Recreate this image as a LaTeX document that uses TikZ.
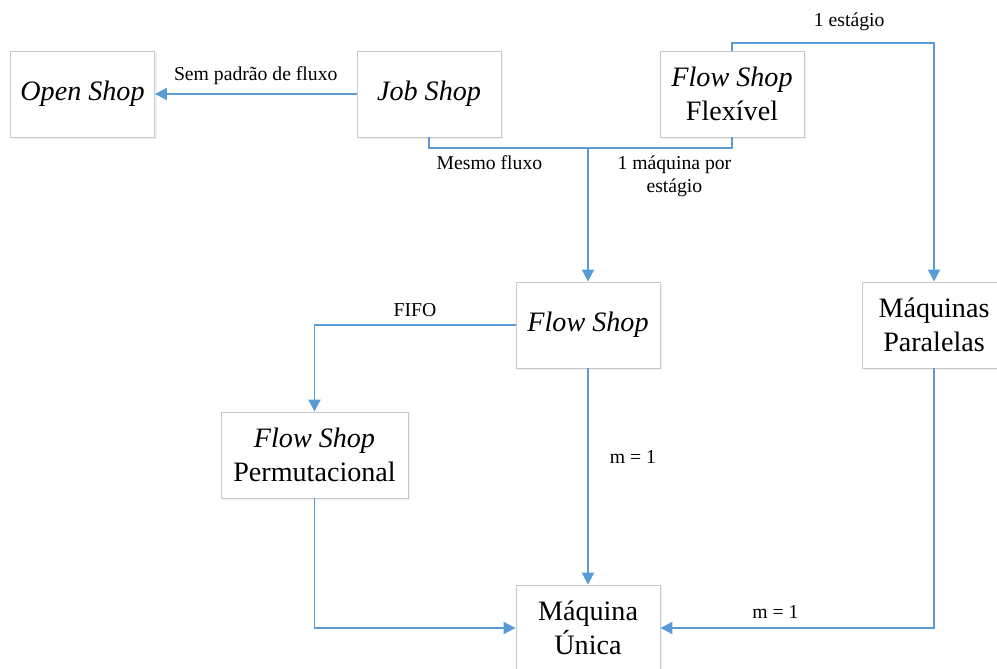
\documentclass[tikz,border=0pt]{standalone}
\usepackage{fontspec}
\setmainfont{Liberation Serif}
\usepackage{tikz}
\usetikzlibrary{arrows.meta, shadows}
\usetikzlibrary{positioning}
\definecolor{linkblue}{RGB}{91,155,213}
\definecolor{boxgray}{RGB}{200,200,200}
\tikzstyle{shop} = [rectangle, minimum width=3.6cm, minimum height=2.15cm, align=center, draw=boxgray, fill=white, line width=0.6pt, font=\fontsize{20}{24}\selectfont, drop shadow={opacity=0.12, shadow xshift=0.06cm, shadow yshift=-0.06cm}]
\tikzstyle{arrow} = [line width=1.4pt, draw=linkblue, -{Triangle[length=0.3cm, width=0.3cm, fill=linkblue]}]
\tikzstyle{link} = [line width=1.4pt, draw=linkblue]
\tikzstyle{tag} = [font=\fontsize{14}{16}\selectfont, align=center, inner sep=2pt]

\begin{document}
\begin{tikzpicture}[x=0.025cm, y=-0.025cm]

\useasboundingbox (0,0) rectangle (997,669);

\node (open) [shop] at (82.5,94) {\textit{Open Shop}};

\node (job) [shop] at (429,94) {\textit{Job Shop}};

\node (flex) [shop] at (732,94) {\textit{Flow Shop}\\Flexível};

\node (flow) [shop] at (588,325) {\textit{Flow Shop}};

\node (paral) [shop] at (934,325) {Máquinas\\Paralelas};

\node (perm) [shop, minimum width=4.675cm] at (314.5,455) {\textit{Flow Shop}\\Permutacional};

\node (unica) [shop] at (588,628) {Máquina\\Única};

\coordinate (merge) at (588,148);
\coordinate (topbend) at (934,43);


\draw [arrow] (job) -- node[tag, above=4pt] {Sem padrão de fluxo} (open);
\draw [link] (job.south) |- node[tag, pos=0.69, below=3pt] {Mesmo fluxo} (merge);
\draw [link] (flex.south) |- node[tag, pos=0.70, below=3pt] {1 máquina por\\estágio} (merge);
\draw [arrow] (merge) -- (flow.north);
\draw [arrow] (flex.north) |- node[tag, pos=0.79, above=6pt] {1 estágio} (topbend) -- (paral.north);
\draw [arrow] (flow.west) -| node[tag, pos=0.25, above=3pt] {FIFO} (perm.north);
\draw [arrow] (flow) -- node[tag, pos=0.41, right=0.45cm] {m = 1} (unica);
\draw [arrow] (perm.south) |- (unica.west);
\draw [arrow] (paral.south) |- node[tag, pos=0.79, above=4pt] {m = 1} (unica.east);


\end{tikzpicture}
\end{document}
